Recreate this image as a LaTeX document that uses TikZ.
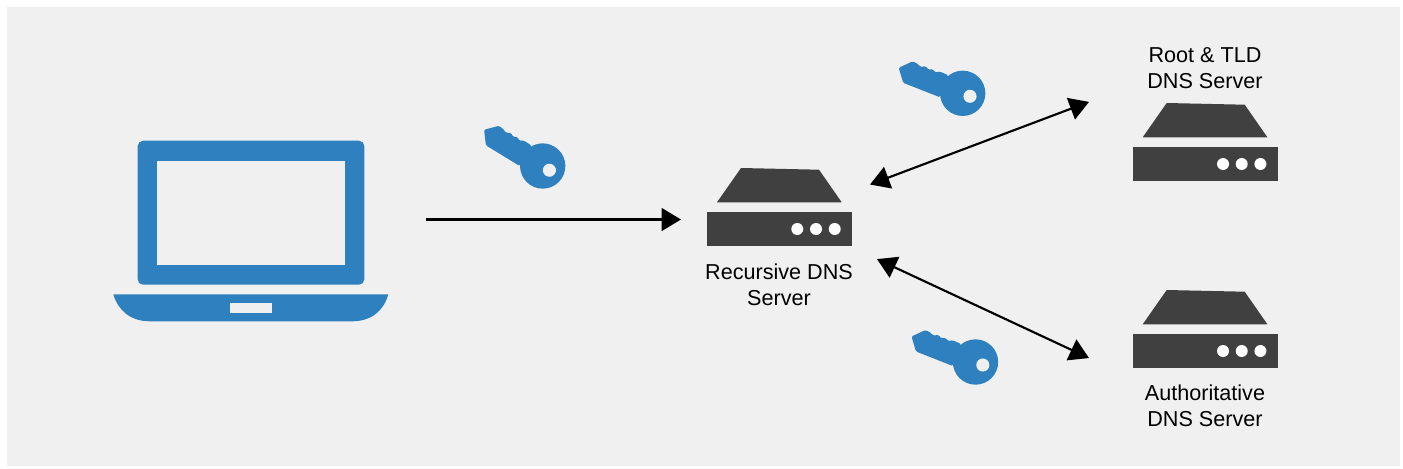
\documentclass[tikz,border=0pt]{standalone}
\usepackage{xcolor}
\usepackage{fontspec}
\setmainfont{Liberation Sans}
\usepackage{tikz}
\usetikzlibrary{arrows.meta}
\definecolor{panelgray}{HTML}{F0F0F0}
\definecolor{iconblue}{HTML}{2E81BE}
\definecolor{serverdark}{HTML}{404040}
\tikzset{
    boxnode/.style={inner sep=0pt, outer sep=0pt},
    labelnode/.style={align=center, font=\fontsize{16.2}{19.5}\selectfont, inner sep=0pt},
    link/.style={line width=1.6pt, >={Triangle[length=14.5pt,width=17pt]}},
    keyicon/.pic={
        \begin{scope}[yscale=-1]
        \fill [iconblue, rounded corners=1pt] (-64,-25.5) -- (-50,-32) -- (-44.3,-29) -- (-42.7,-26.5) -- (-36.7,-27) -- (-34.3,-23.5) -- (-30,-24.3) -- (-27.7,-21) -- (-22.7,-21.7) -- (-14.3,-18) -- (-22.7,4) -- (-59.5,-10.5) -- cycle ;
        \fill [iconblue] (0,0) circle [radius=17pt] ;
        \fill [panelgray] (7.3,3) circle [radius=4.9pt] ;
        \end{scope}
    },
    servericon/.pic={
        \begin{scope}[yscale=-1]
        \fill [serverdark] (33.7,0) -- (111.7,1.7) -- (134.4,34.3) -- (9.7,34.3) -- cycle ;
        \fill [serverdark] (0,43.7) -- (144.7,43.7) -- (144.7,78.3) -- (0,78.3) -- cycle ;
        \foreach \x in {90,108.7,127.4}{
            \fill [white] (\x,61) circle [radius=4.5pt] ;
        }
        \end{scope}
    }
}
\begin{document}
\begin{tikzpicture}[x=0.75pt,y=0.75pt,yscale=-1,xscale=1]
        \useasboundingbox (0,0) rectangle (1403,468);
        \fill [panelgray] (7,7) -- (1400,7) -- (1400,466) -- (7,466) -- cycle ;
        % laptop
        \fill [iconblue, rounded corners=4pt] (137.7,140.7) -- (364.3,140.7) -- (364.3,284.7) -- (137.7,284.7) -- cycle ;
        \fill [panelgray] (157.3,160.7) -- (344.7,160.7) -- (344.7,264.7) -- (157.3,264.7) -- cycle ;
        \fill [iconblue] (113.3,294.3) -- (388.3,294.3) .. controls (384,310) and (372,321.3) .. (352,321.3) -- (150,321.3) .. controls (130,321.3) and (118,310) .. (113.3,294.3) -- cycle ;
        \fill [panelgray] (230.3,303.3) -- (271.7,303.3) -- (271.7,312.7) -- (230.3,312.7) -- cycle ;
        % servers
        \draw (707.3,168) pic {servericon} ;
        \draw (1133,103) pic {servericon} ;
        \draw (1133,290) pic {servericon} ;
        % keys
        \draw (542.7,166) pic [rotate=-10] {keyicon} ;
        \draw (962.7,93.3) pic {keyicon} ;
        \draw (975.5,362) pic {keyicon} ;
        % anchors for the arrows
        \node (laptop) [boxnode, minimum width=313*0.75pt, minimum height=181*0.75pt] at (269.5,219.5) {};
        \node (recursive) [boxnode, minimum width=196*0.75pt, minimum height=103*0.75pt] at (779,219.5) {};
        \node (root) [boxnode, minimum width=233*0.75pt, minimum height=90*0.75pt] at (1205.5,142) {};
        \node (auth) [boxnode, minimum width=233*0.75pt, minimum height=90*0.75pt] at (1205.5,329) {};
        \draw [link, ->] (laptop.east) -- (recursive.west) ;
        \draw [link, <->, shorten <=-5.6pt] (recursive.21.25) -- (root.161.4) ;
        \draw [link, <->] (recursive.-22.8) -- (auth.194.6) ;
        % labels
        \node (recursivelabel) [labelnode] at (779,284.5) {Recursive DNS\\Server};
        \node (rootlabel) [labelnode] at (1205,68.3) {Root \& TLD\\DNS Server};
        \node (authlabel) [labelnode] at (1205,405.5) {Authoritative\\DNS Server};
    \end{tikzpicture}
\end{document}
